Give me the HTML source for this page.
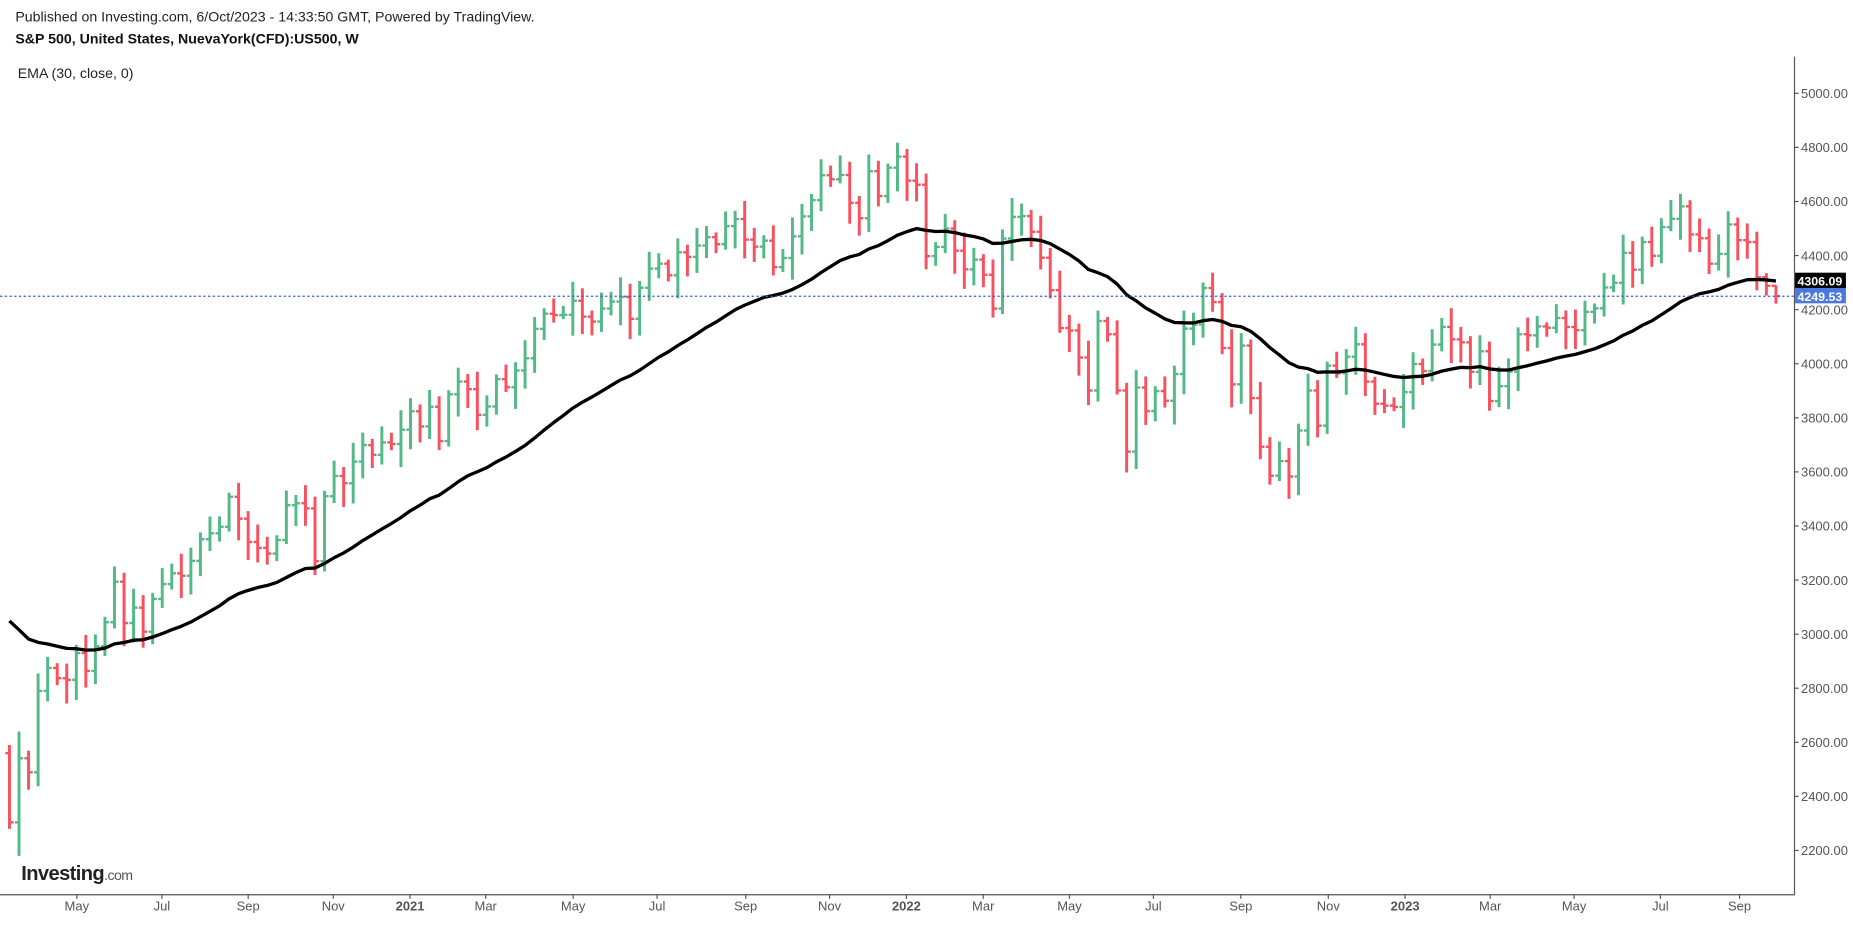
<!DOCTYPE html>
<html><head><meta charset="utf-8"><style>
html,body{margin:0;padding:0;background:#fff;overflow:hidden;width:1853px;height:919px}
#wrap{position:absolute;left:0;top:0;width:1568px;height:778px;transform-origin:0 0;transform:scale(1.18176,1.1812)}
svg text{font-family:"Liberation Sans",sans-serif}
</style></head><body>
<div id="wrap"><svg id="s" width="1568" height="778" xmlns="http://www.w3.org/2000/svg"></svg></div>
<script>
var C=[2304,2541,2489,2790,2875,2837,2831,2930,2864,2955,3044,3194,3041,3098,3009,3130,3185,3225,3216,3271,3351,3373,3397,3508,3427,3341,3319,3298,3348,3477,3484,3465,3270,3510,3585,3558,3638,3699,3663,3709,3703,3756,
3824,3768,3841,3714,3887,3934,3906,3811,3842,3943,3913,3975,4020,4129,4185,4180,4181,4233,4174,4156,4204,4230,4247,4166,4281,4352,4370,4327,4412,4395,4437,4468,4442,4509,4535,4459,4433,4455,4357,4391,4471,4545,4605,4697,4682,4698,4595,4538,4712,4620,4725,4766,
4677,4662,4398,4432,4500,4418,4349,4385,4329,4204,4463,4543,4546,4488,4392,4272,4132,4123,4023,3901,4158,4109,3901,3675,3912,3825,3899,3863,3962,4130,4145,4280,4228,4058,3924,4067,3873,3693,3586,3640,3583,3753,3901,3771,3993,3965,4026,4072,3934,3852,3845,3840,
3895,3999,3973,4071,4136,4090,4079,3970,4046,3862,3917,3971,4109,4105,4138,4133,4169,4136,4124,4192,4205,4282,4299,4410,4348,4450,4399,4505,4536,4582,4478,4464,4370,4406,4515,4457,4450,4320,4288,4250];
function Y(p){return 79+(5000-p)*0.22893;}
function X(i){return 8+i*8.08;}
var s='';
s+='<text x="13" y="18" font-size="12" fill="#222">Published on Investing.com, 6/Oct/2023 - 14:33:50 GMT, Powered by TradingView.</text>';
s+='<text x="13" y="37" font-size="12" font-weight="bold" fill="#111">S&amp;P 500, United States, NuevaYork(CFD):US500, W</text>';
s+='<text x="15" y="66" font-size="12" fill="#222">EMA (30, close, 0)</text>';
s+='<line x1="1518.5" y1="48" x2="1518.5" y2="757" stroke="#555" stroke-width="1"/>';
s+='<line x1="0" y1="757.5" x2="1519" y2="757.5" stroke="#555" stroke-width="1"/>';
for(var p=2200;p<=5000;p+=200){var y=Y(p);s+='<line x1="1518" x2="1522" y1="'+y+'" y2="'+y+'" stroke="#555"/><text x="1524" y="'+(y+4)+'" font-size="11" fill="#555">'+p+'.00</text>';}
var mon=[[65,'May'],[137,'Jul'],[210,'Sep'],[282,'Nov'],[347,'2021',1],[411,'Mar'],[485,'May'],[556,'Jul'],[631,'Sep'],[702,'Nov'],[767,'2022',1],[832,'Mar'],[905,'May'],[976,'Jul'],[1050,'Sep'],[1124,'Nov'],[1189,'2023',1],[1261,'Mar'],[1332,'May'],[1405,'Jul'],[1472,'Sep']];
mon.forEach(function(m){s+='<line x1="'+m[0]+'" x2="'+m[0]+'" y1="757" y2="761" stroke="#555"/><text x="'+m[0]+'" y="771" font-size="11" text-anchor="middle" fill="#555"'+(m[2]?' font-weight="bold"':'')+'>'+m[1]+'</text>';});
var O=[2560],H=[2590],L=[2280];
for(var i=1;i<C.length;i++){O[i]=C[i-1];var a=Math.max(O[i],C[i]),b=Math.min(O[i],C[i]);H[i]=a+15+(i*37%23)*2.6;L[i]=b-15-(i*53%29)*2.6;}
H[1]=2640;L[1]=2180;H[C.length-1]=4290;L[C.length-1]=4222;
for(i=0;i<C.length;i++){var x=X(i),col=C[i]>=O[i]?'#53b987':'#f7525f';
s+='<line x1="'+x+'" x2="'+x+'" y1="'+Y(H[i])+'" y2="'+Y(L[i])+'" stroke="'+col+'" stroke-width="2.5"/>';
s+='<line x1="'+(x-3.5)+'" x2="'+x+'" y1="'+Y(O[i])+'" y2="'+Y(O[i])+'" stroke="'+col+'" stroke-width="2"/>';
s+='<line x1="'+x+'" x2="'+(x+3.5)+'" y1="'+Y(C[i])+'" y2="'+Y(C[i])+'" stroke="'+col+'" stroke-width="2"/>';}
var e=3100,al=2/31,pts=[];
for(i=0;i<C.length;i++){e=e+al*(C[i]-e);pts.push(X(i).toFixed(1)+','+Y(e).toFixed(1));}
s+='<polyline points="'+pts.join(' ')+'" fill="none" stroke="#000" stroke-width="2.8" stroke-linejoin="round"/>';
var yc=Y(4249.53),ye=Y(4306.09);
s+='<line x1="0" x2="1518" y1="'+yc+'" y2="'+yc+'" stroke="#3a5fd9" stroke-width="1" stroke-dasharray="2,2"/>';
s+='<rect x="1519" y="'+(ye-7)+'" width="43" height="13" fill="#000"/><text x="1521" y="'+(ye+4)+'" font-size="10.5" font-weight="bold" fill="#fff">4306.09</text>';
s+='<rect x="1519" y="'+(yc-7)+'" width="43" height="13" fill="#4a78e0"/><text x="1521" y="'+(yc+4)+'" font-size="10.5" font-weight="bold" fill="#fff">4249.53</text>';
s+='<text x="18" y="745" font-size="17" font-weight="bold" fill="#222" letter-spacing="-0.5">Investing<tspan font-size="12" font-weight="normal" fill="#555">.com</tspan></text>';
document.getElementById('s').innerHTML=s;
</script>
</body></html>
